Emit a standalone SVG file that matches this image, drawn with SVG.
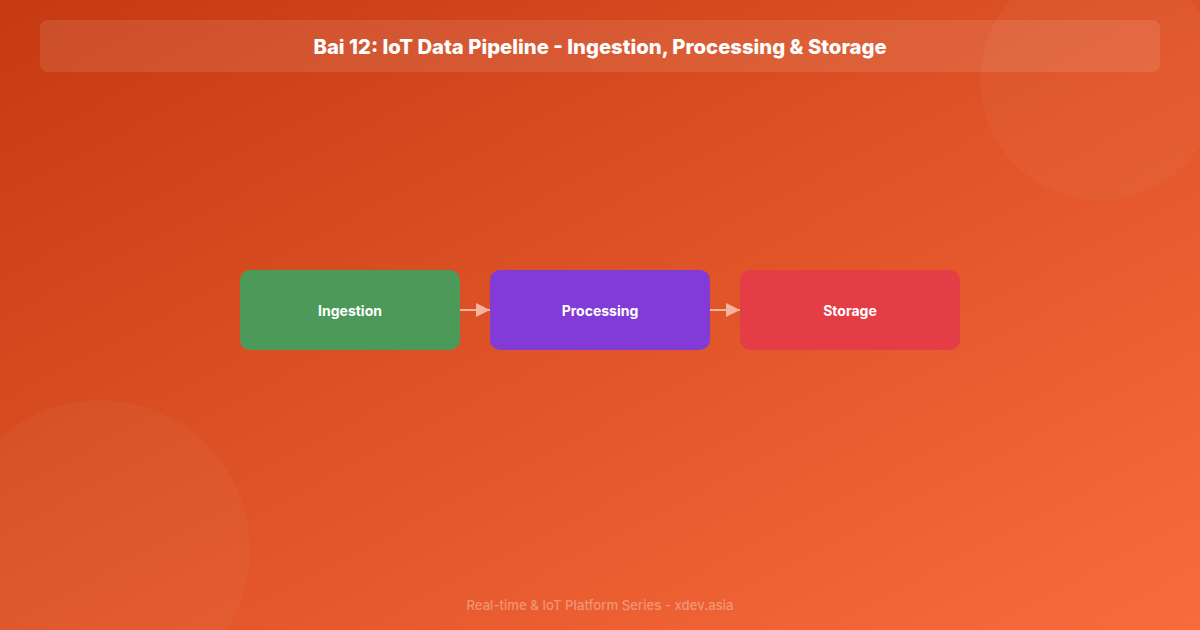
<svg xmlns="http://www.w3.org/2000/svg" width="1200" height="630" viewBox="0 0 1200 630">
<defs>
<linearGradient id="bg" x1="0" y1="0" x2="1" y2="1">
<stop offset="0" stop-color="#C53A12"/>
<stop offset="1" stop-color="#F86C3C"/>
</linearGradient>
<marker id="arr" viewBox="0 0 10 10" refX="10" refY="5" markerWidth="18" markerHeight="14" markerUnits="userSpaceOnUse" orient="auto">
<path d="M0,0 L10,5 L0,10 Z" fill="#F6B39E"/>
</marker>
<style>
.node-label{font-family:Inter,"Noto Sans",sans-serif;font-weight:700;font-size:14px;fill:#FFFFFF;text-anchor:middle;dominant-baseline:central}
.edge{stroke:#F6B39E;stroke-width:2;fill:none}
</style>
</defs>
<rect width="1200" height="630" fill="url(#bg)"/>
<circle cx="1100" cy="80" r="120" fill="#FFFFFF" fill-opacity="0.035"/>
<circle cx="100" cy="550" r="150" fill="#FFFFFF" fill-opacity="0.035"/>
<g id="header">
<rect x="40" y="20" width="1120" height="52" rx="8" fill="#FFFFFF" fill-opacity="0.1"/>
<text x="600" y="46" font-family="Inter,'Noto Sans',sans-serif" font-weight="800" font-size="20.3" fill="#FFFFFF" text-anchor="middle" dominant-baseline="central">Bai 12: IoT Data Pipeline - Ingestion, Processing &amp; Storage</text>
</g>
<g id="connectors">
<line class="edge" x1="460" y1="310" x2="490" y2="310" marker-end="url(#arr)"/>
<line class="edge" x1="710" y1="310" x2="740" y2="310" marker-end="url(#arr)"/>
</g>
<g id="node-ingestion">
<rect x="240" y="270" width="220" height="80" rx="10" fill="#4C9A59"/>
<text class="node-label" x="350" y="310">Ingestion</text>
</g>
<g id="node-processing">
<rect x="490" y="270" width="220" height="80" rx="10" fill="#833BD7"/>
<text class="node-label" x="600" y="310">Processing</text>
</g>
<g id="node-storage">
<rect x="740" y="270" width="220" height="80" rx="10" fill="#E43D45"/>
<text class="node-label" x="850" y="310">Storage</text>
</g>
<text id="footer" x="600" y="605" font-family="Inter,'Noto Sans',sans-serif" font-weight="500" font-size="13.2" fill="#FFFFFF" fill-opacity="0.35" text-anchor="middle" dominant-baseline="central">Real-time &amp; IoT Platform Series - xdev.asia</text>
</svg>
